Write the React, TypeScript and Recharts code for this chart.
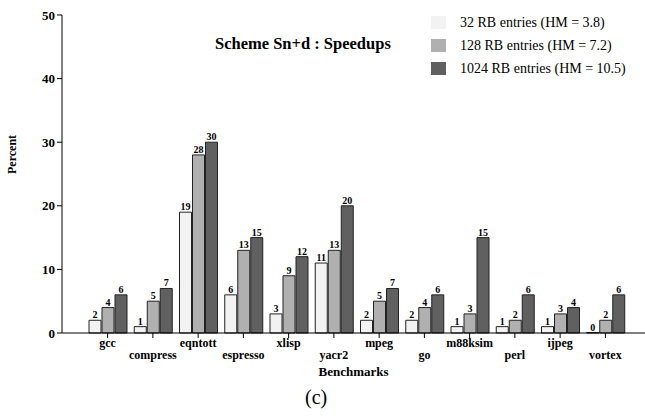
import { BarChart, Bar, XAxis, YAxis, LabelList } from 'recharts';

const benchmarks = ['gcc', 'compress', 'eqntott', 'espresso', 'xlisp', 'yacr2', 'mpeg', 'go', 'm88ksim', 'perl', 'ijpeg', 'vortex'];
const rb32 = [2, 1, 19, 6, 3, 11, 2, 2, 1, 1, 1, 0];
const rb128 = [4, 5, 28, 13, 9, 13, 5, 4, 3, 2, 3, 2];
const rb1024 = [6, 7, 30, 15, 12, 20, 7, 6, 15, 6, 4, 6];
const yTicks = [0, 10, 20, 30, 40, 50];

const series = [
  { key: 'rb32', name: '32 RB entries (HM = 3.8)', color: '#f2f2f2' },
  { key: 'rb128', name: '128 RB entries (HM = 7.2)', color: '#b0b0b0' },
  { key: 'rb1024', name: '1024 RB entries (HM = 10.5)', color: '#606060' },
];

const data = benchmarks.map((name, i) => ({
  name,
  rb32: rb32[i],
  rb128: rb128[i],
  rb1024: rb1024[i],
}));

const font = '"Liberation Serif", "Times New Roman", Times, serif';

// labels alternate between two rows
function StaggerTick(props: any) {
  const { x, y, payload, index } = props;
  const dy = index % 2 === 0 ? 7 : 19;
  return (
    <text x={x} y={y + dy} textAnchor="middle" fontFamily={font} fontWeight="bold" fontSize={12} fill="#000">
      {payload.value}
    </text>
  );
}

// value on top of each bar, also for zero-height bars
function ValueLabel(props: any) {
  const { x, y, width, height, value } = props;
  if (x == null || y == null) return null;
  const top = Math.min(y, y + (height || 0));
  return (
    <text x={x + width / 2} y={top - 2} textAnchor="middle" fontFamily={font} fontWeight="bold" fontSize={10} fill="#000">
      {value}
    </text>
  );
}

export default function App() {
  return (
    <div style={{ position: 'absolute', left: 0, top: 0, width: 645, height: 416, background: '#fff', fontFamily: font }}>
      <BarChart width={645} height={416} data={data} margin={{ top: 15, right: 0, left: 0, bottom: 0 }} barSize={12} barGap={1}>
        <XAxis
          dataKey="name"
          height={83}
          interval={0}
          padding={{ left: 23, right: 17 }}
          stroke="#000"
          tickSize={5}
          tick={<StaggerTick />}
          label={{ value: 'Benchmarks', position: 'insideTop', offset: 34, fontFamily: font, fontWeight: 'bold', fontSize: 13, fill: '#000' }}
        />
        <YAxis
          width={62}
          domain={[0, 50]}
          ticks={yTicks}
          stroke="#000"
          tickSize={5}
          tick={{ fontFamily: font, fontWeight: 'bold', fontSize: 13, fill: '#000' }}
          label={{ value: 'Percent', angle: -90, position: 'insideLeft', offset: 12, fontFamily: font, fontWeight: 'bold', fontSize: 12, fill: '#000' }}
        />
        {series.map((s) => (
          <Bar
            key={s.key}
            dataKey={s.key}
            name={s.name}
            fill={s.color}
            stroke="#222"
            strokeWidth={1}
            minPointSize={0.5}
            isAnimationActive={false}
          >
            <LabelList dataKey={s.key} content={<ValueLabel />} />
          </Bar>
        ))}
      </BarChart>
      <div style={{ position: 'absolute', left: 431, top: 11, fontSize: 14, color: '#000' }}>
        {series.map((s) => (
          <div key={s.key} style={{ display: 'flex', alignItems: 'center', height: 23 }}>
            <span style={{ width: 15, height: 13, background: s.color, display: 'inline-block', marginRight: 14 }} />
            {s.name}
          </div>
        ))}
      </div>
      <div style={{ position: 'absolute', left: 215, top: 34, fontWeight: 'bold', fontSize: 16.5 }}>
        Scheme Sn+d : Speedups
      </div>
      <div style={{ position: 'absolute', left: 305, top: 386, fontSize: 20 }}>(c)</div>
    </div>
  );
}
